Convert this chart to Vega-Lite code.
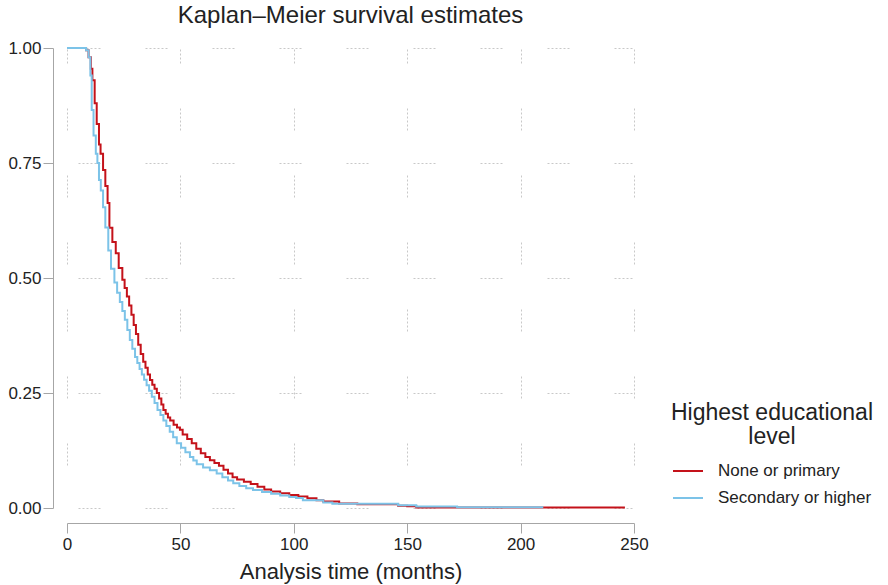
{
 "$schema": "https://vega.github.io/schema/vega-lite/v6.json",
 "width": 567, "height": 460,
 "autosize": {"type": "none"},
 "padding": {"left": 67, "top": 48, "right": 254, "bottom": 77},
 "background": "white",
 "title": {"text": "Kaplan–Meier survival estimates", "fontSize": 24, "font": "Liberation Sans", "fontWeight": "normal", "color": "#222222", "anchor": "middle", "baseline": "bottom", "offset": 14, "dy": 27},
 "datasets": {
  "km": [
   {"t":0,"S":1.0,"g":"None or primary"},{"t":8.4,"S":0.995,"g":"None or primary"},{"t":9.5,"S":0.98,"g":"None or primary"},{"t":10.5,"S":0.955,"g":"None or primary"},{"t":11.2,"S":0.93,"g":"None or primary"},{"t":12.2,"S":0.88,"g":"None or primary"},{"t":13.1,"S":0.835,"g":"None or primary"},{"t":14.1,"S":0.79,"g":"None or primary"},{"t":14.8,"S":0.77,"g":"None or primary"},{"t":15.9,"S":0.735,"g":"None or primary"},{"t":16.9,"S":0.70,"g":"None or primary"},{"t":17.9,"S":0.663,"g":"None or primary"},{"t":18.7,"S":0.609,"g":"None or primary"},{"t":20,"S":0.578,"g":"None or primary"},{"t":21.5,"S":0.554,"g":"None or primary"},{"t":22.8,"S":0.522,"g":"None or primary"},{"t":24.4,"S":0.496,"g":"None or primary"},{"t":25.4,"S":0.478,"g":"None or primary"},{"t":26.4,"S":0.46,"g":"None or primary"},{"t":27.4,"S":0.44,"g":"None or primary"},{"t":28.4,"S":0.42,"g":"None or primary"},{"t":29.4,"S":0.398,"g":"None or primary"},{"t":30.4,"S":0.378,"g":"None or primary"},{"t":31.4,"S":0.355,"g":"None or primary"},{"t":32.5,"S":0.335,"g":"None or primary"},{"t":33.6,"S":0.318,"g":"None or primary"},{"t":34.6,"S":0.305,"g":"None or primary"},{"t":35.6,"S":0.29,"g":"None or primary"},{"t":36.6,"S":0.278,"g":"None or primary"},{"t":37.6,"S":0.268,"g":"None or primary"},{"t":38.6,"S":0.259,"g":"None or primary"},{"t":39.6,"S":0.25,"g":"None or primary"},{"t":40.6,"S":0.238,"g":"None or primary"},{"t":41.6,"S":0.225,"g":"None or primary"},{"t":42.5,"S":0.213,"g":"None or primary"},{"t":43.5,"S":0.205,"g":"None or primary"},{"t":44.5,"S":0.197,"g":"None or primary"},{"t":45.5,"S":0.19,"g":"None or primary"},{"t":47,"S":0.181,"g":"None or primary"},{"t":48.5,"S":0.175,"g":"None or primary"},{"t":49.8,"S":0.17,"g":"None or primary"},{"t":51,"S":0.16,"g":"None or primary"},{"t":53,"S":0.15,"g":"None or primary"},{"t":55,"S":0.141,"g":"None or primary"},{"t":57,"S":0.129,"g":"None or primary"},{"t":59,"S":0.119,"g":"None or primary"},{"t":61,"S":0.111,"g":"None or primary"},{"t":63,"S":0.104,"g":"None or primary"},{"t":65,"S":0.098,"g":"None or primary"},{"t":67,"S":0.092,"g":"None or primary"},{"t":69,"S":0.083,"g":"None or primary"},{"t":71,"S":0.075,"g":"None or primary"},{"t":73,"S":0.067,"g":"None or primary"},{"t":75,"S":0.062,"g":"None or primary"},{"t":78,"S":0.057,"g":"None or primary"},{"t":81,"S":0.052,"g":"None or primary"},{"t":84,"S":0.046,"g":"None or primary"},{"t":87,"S":0.040,"g":"None or primary"},{"t":90,"S":0.036,"g":"None or primary"},{"t":94,"S":0.032,"g":"None or primary"},{"t":98,"S":0.028,"g":"None or primary"},{"t":102,"S":0.025,"g":"None or primary"},{"t":106,"S":0.021,"g":"None or primary"},{"t":110,"S":0.017,"g":"None or primary"},{"t":113,"S":0.014,"g":"None or primary"},{"t":120,"S":0.010,"g":"None or primary"},{"t":128,"S":0.008,"g":"None or primary"},{"t":146,"S":0.005,"g":"None or primary"},{"t":150,"S":0.004,"g":"None or primary"},{"t":154,"S":0.001,"g":"None or primary"},{"t":246,"S":0.001,"g":"None or primary"},
   {"t":0,"S":1.0,"g":"Secondary or higher"},{"t":8.4,"S":0.995,"g":"Secondary or higher"},{"t":9.5,"S":0.98,"g":"Secondary or higher"},{"t":10.3,"S":0.94,"g":"Secondary or higher"},{"t":10.9,"S":0.865,"g":"Secondary or higher"},{"t":11.7,"S":0.81,"g":"Secondary or higher"},{"t":12.7,"S":0.77,"g":"Secondary or higher"},{"t":13.4,"S":0.75,"g":"Secondary or higher"},{"t":14.1,"S":0.713,"g":"Secondary or higher"},{"t":14.9,"S":0.69,"g":"Secondary or higher"},{"t":15.9,"S":0.654,"g":"Secondary or higher"},{"t":16.9,"S":0.61,"g":"Secondary or higher"},{"t":18.2,"S":0.56,"g":"Secondary or higher"},{"t":19.4,"S":0.52,"g":"Secondary or higher"},{"t":20.9,"S":0.49,"g":"Secondary or higher"},{"t":22.1,"S":0.468,"g":"Secondary or higher"},{"t":23.3,"S":0.448,"g":"Secondary or higher"},{"t":24.4,"S":0.428,"g":"Secondary or higher"},{"t":25.5,"S":0.409,"g":"Secondary or higher"},{"t":26.6,"S":0.387,"g":"Secondary or higher"},{"t":27.7,"S":0.365,"g":"Secondary or higher"},{"t":28.8,"S":0.346,"g":"Secondary or higher"},{"t":30,"S":0.328,"g":"Secondary or higher"},{"t":31,"S":0.315,"g":"Secondary or higher"},{"t":32,"S":0.302,"g":"Secondary or higher"},{"t":33,"S":0.29,"g":"Secondary or higher"},{"t":34,"S":0.279,"g":"Secondary or higher"},{"t":35.1,"S":0.267,"g":"Secondary or higher"},{"t":36.2,"S":0.255,"g":"Secondary or higher"},{"t":37.4,"S":0.242,"g":"Secondary or higher"},{"t":38.6,"S":0.228,"g":"Secondary or higher"},{"t":39.9,"S":0.213,"g":"Secondary or higher"},{"t":41.2,"S":0.202,"g":"Secondary or higher"},{"t":42.5,"S":0.19,"g":"Secondary or higher"},{"t":43.8,"S":0.178,"g":"Secondary or higher"},{"t":45.3,"S":0.166,"g":"Secondary or higher"},{"t":46.8,"S":0.154,"g":"Secondary or higher"},{"t":48.4,"S":0.141,"g":"Secondary or higher"},{"t":50.3,"S":0.131,"g":"Secondary or higher"},{"t":52.2,"S":0.121,"g":"Secondary or higher"},{"t":54.2,"S":0.111,"g":"Secondary or higher"},{"t":55.7,"S":0.103,"g":"Secondary or higher"},{"t":57.2,"S":0.095,"g":"Secondary or higher"},{"t":60,"S":0.088,"g":"Secondary or higher"},{"t":63,"S":0.082,"g":"Secondary or higher"},{"t":66,"S":0.075,"g":"Secondary or higher"},{"t":68.5,"S":0.067,"g":"Secondary or higher"},{"t":71,"S":0.06,"g":"Secondary or higher"},{"t":73.3,"S":0.054,"g":"Secondary or higher"},{"t":76,"S":0.048,"g":"Secondary or higher"},{"t":79,"S":0.043,"g":"Secondary or higher"},{"t":82,"S":0.039,"g":"Secondary or higher"},{"t":86,"S":0.035,"g":"Secondary or higher"},{"t":90,"S":0.031,"g":"Secondary or higher"},{"t":94,"S":0.027,"g":"Secondary or higher"},{"t":98,"S":0.024,"g":"Secondary or higher"},{"t":101,"S":0.022,"g":"Secondary or higher"},{"t":104,"S":0.017,"g":"Secondary or higher"},{"t":113,"S":0.012,"g":"Secondary or higher"},{"t":117,"S":0.009,"g":"Secondary or higher"},{"t":146,"S":0.006,"g":"Secondary or higher"},{"t":154,"S":0.003,"g":"Secondary or higher"},{"t":172,"S":0.0015,"g":"Secondary or higher"},{"t":210,"S":0.0015,"g":"Secondary or higher"}
  ]
 },
 "data": {"name": "km"},
 "mark": {"type": "line", "interpolate": "step-after", "strokeWidth": 2},
 "encoding": {
  "x": {"field": "t", "type": "quantitative", "scale": {"domain": [0, 250], "nice": false, "zero": false},
        "axis": {"values": [0, 50, 100, 150, 200, 250], "title": "Analysis time (months)", "offset": 15, "labelPadding": 3, "labelFlush": false, "titlePadding": 9, "gridDash": [2,2,2,2,2,2,2,2,2,2,2,45], "gridDashOffset": 7}},
  "y": {"field": "S", "type": "quantitative", "scale": {"domain": [0, 1], "nice": false},
        "axis": {"values": [0, 0.25, 0.5, 0.75, 1], "format": ".2f", "title": null, "offset": 14, "labelPadding": 2, "labelFlush": false, "gridDash": [2,2,2,2,2,2,2,2,2,2,2,45], "gridDashOffset": 56}},
  "color": {"field": "g", "type": "nominal",
            "scale": {"domain": ["None or primary", "Secondary or higher"], "range": ["#c4121a", "#7cc3e8"]},
            "legend": {"orient": "none", "legendX": 604, "legendY": 354, "title": ["Highest educational", "level"],
                       "titleFontSize": 23, "titleFontWeight": "normal", "titleFont": "Liberation Sans", "titleColor": "#222222",
                       "titleAlign": "center", "titleAnchor": "middle", "titleLineHeight": 24, "titlePadding": 6, "titleLimit": 400,
                       "labelFontSize": 17, "labelFont": "Liberation Sans", "labelColor": "#222222", "labelLimit": 400,
                       "symbolType": "stroke", "symbolSize": 900, "symbolStrokeWidth": 2, "labelOffset": 14, "rowPadding": 3}}
 },
 "config": {
  "view": {"stroke": null},
  "axis": {"domainColor": "#a6a6a6", "tickColor": "#a6a6a6", "tickSize": 10, "domainWidth": 1, "tickWidth": 1,
           "labelFont": "Liberation Sans", "labelFontSize": 17, "labelColor": "#222222",
           "titleFont": "Liberation Sans", "titleFontSize": 22, "titleFontWeight": "normal", "titleColor": "#222222",
           "grid": true, "gridColor": "#c8c8c8", "gridWidth": 1}
 }
}
